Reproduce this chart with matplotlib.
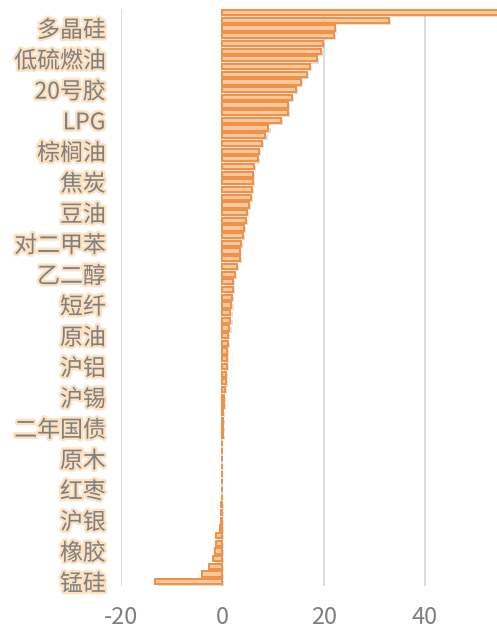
import matplotlib.pyplot as plt
import matplotlib.patheffects as pe

plt.rcParams['font.family'] = ['Noto Sans CJK SC', 'DejaVu Sans']

# values from top bar to bottom bar (75 contracts)
values = [60.0, 32.8, 22.3, 22.0, 19.9, 19.5, 18.6, 17.2, 16.7, 15.5,
          14.5, 13.7, 13.0, 12.9, 11.5, 9.1, 8.5, 7.9, 7.2, 7.1,
          6.3, 6.1, 6.0, 5.8, 5.6, 5.2, 4.9, 4.7, 4.3, 4.1,
          3.6, 3.4, 3.4, 2.9, 2.4, 2.1, 2.1, 1.9, 1.8, 1.6,
          1.6, 1.4, 1.1, 1.05, 1.0, 0.9, 0.85, 0.8, 0.65, 0.45,
          0.4, 0.3, 0.2, 0.15, 0.1, 0.05, 0, 0, 0, 0,
          0, 0, 0, -0.1, -0.2, -0.2, -0.3, -0.4, -1.3, -1.3,
          -1.5, -1.8, -2.6, -4.0, -13.2]

# only every 4th contract is labelled (counted from the top bar)
shown_labels = ["多晶硅", "低硫燃油", "20号胶", "LPG", "棕榈油", "焦炭", "豆油",
                "对二甲苯", "乙二醇", "短纤", "原油", "沪铝", "沪锡", "二年国债",
                "原木", "红枣", "沪银", "橡胶", "锰硅"]
label_rows = [2 + 4 * i for i in range(len(shown_labels))]

xticks = [-20, 0, 20, 40]

fig = plt.figure(figsize=(4.97, 6.28), dpi=100)
ax = fig.add_axes([121 / 497, 0.0675, 376 / 497, 0.9184])

rows = list(range(len(values)))
bars = ax.barh(rows, values, height=0.68, color='#FAC89B', edgecolor='#EE9147',
               linewidth=1.4, zorder=3)
for b in bars:
    b.set_path_effects([pe.SimplePatchShadow(offset=(1.5, -1.5), shadow_rgbFace='#999999', alpha=0.3),
                        pe.Normal()])

ax.set_ylim(len(values) - 0.5, -0.5)
ax.set_xlim(-20, 54.2)

ax.set_xticks(xticks)
ax.set_xticklabels([str(t) for t in xticks])
ax.set_yticks(label_rows)
ax.set_yticklabels(shown_labels)

ax.grid(axis='x', color='#D9D9D9', linewidth=1.3, zorder=0)
ax.set_axisbelow(True)
for s in ax.spines.values():
    s.set_visible(False)

ax.tick_params(axis='x', length=0, pad=15, labelsize=17, labelcolor='#7F7F7F')
ax.tick_params(axis='y', length=0, pad=11, labelsize=16.5, labelcolor='#808080')
for t in ax.get_yticklabels():
    t.set_path_effects([pe.withStroke(linewidth=3.5, foreground='#FDDDB8', alpha=0.85)])

fig.savefig('out.png', dpi=100)
